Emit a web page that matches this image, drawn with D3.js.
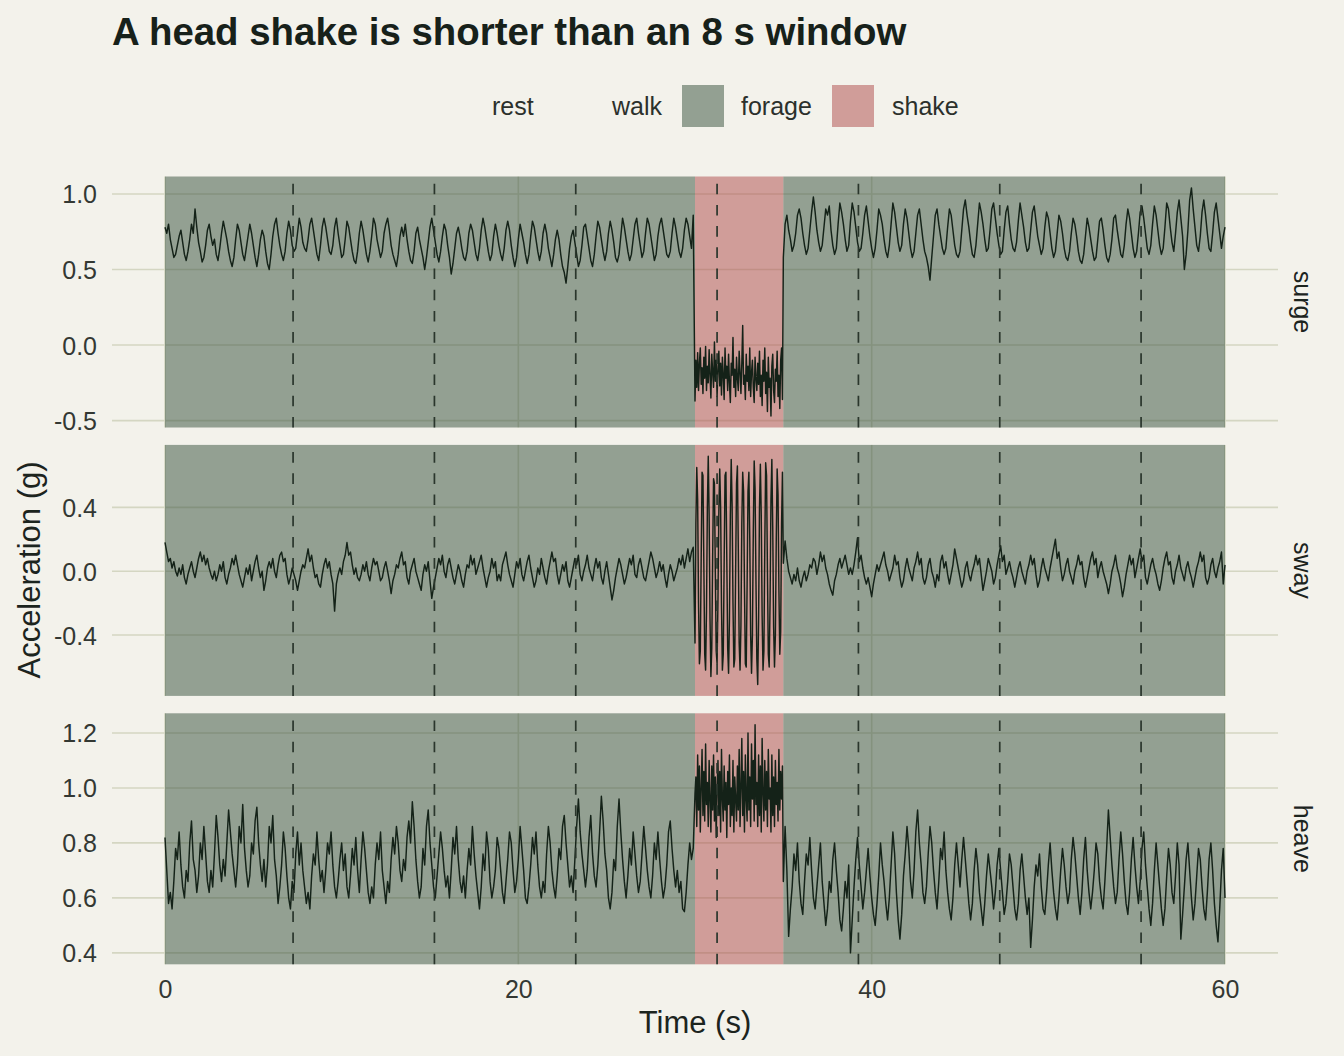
<!DOCTYPE html>
<html><head><meta charset="utf-8">
<script src="https://cdn.jsdelivr.net/npm/d3@7"></script>
<style>html,body{margin:0;padding:0;background:#f3f2eb;}svg{display:block;}</style>
</head><body><svg id="chart" width="1344" height="1056"></svg>
<script>
// ---------------- data ----------------
const titleText = "A head shake is shorter than an 8 s window";
const panelNames = ["surge", "sway", "heave"];
const legendLabels = ["rest", "walk", "forage", "shake"];
const xTicks = [0, 20, 40, 60];
const surgeTicks = [-0.5, 0, 0.5, 1.0];
const surgeTickLabels = ["-0.5", "0.0", "0.5", "1.0"];
const swayTicks = [-0.4, 0, 0.4];
const swayTickLabels = ["-0.4", "0.0", "0.4"];
const heaveTicks = [0.4, 0.6, 0.8, 1.0, 1.2];
const heaveTickLabels = ["0.4", "0.6", "0.8", "1.0", "1.2"];
const windowLines = [7.25, 15.25, 23.25, 31.25, 39.25, 47.25, 55.25];
const boutStart = [0, 30, 35];
const boutEnd = [30, 35, 60];
const boutLabel = ["forage", "shake", "forage"];
// sampling grid: walk segments every 0.1 s, shake every 0.05 s
const preStart = 0, preStep = 0.1;
const shakeStart = 30, shakeStep = 0.05;
const postStart = 35, postStep = 0.1;

// values in hundredths of g
const surgePre = [
78,74,80,70,64,58,60,66,72,76, 68,60,56,62,70,80,74,90,78,68,
62,55,58,66,76,80,72,66,70,60, 56,64,74,82,76,70,62,56,52,58,
70,80,76,68,60,56,64,72,80,74, 66,58,52,60,70,76,72,62,54,50,
60,72,80,84,74,66,60,56,62,74, 82,76,66,62,64,74,84,78,68,64,
62,70,80,84,76,68,60,56,66,78, 84,78,70,62,60,66,78,84,74,66,
58,60,70,82,78,70,62,56,54,62, 74,82,76,68,60,55,62,72,84,80,
70,64,58,62,74,80,84,76,66,60, 56,52,60,72,78,72,80,70,62,56,
54,62,74,78,70,64,58,50,58,68, 78,84,76,68,60,55,62,72,80,76,
66,58,47,54,64,74,78,72,64,58, 56,62,74,80,76,68,60,56,64,76,
84,78,70,62,56,60,72,80,74,66, 60,56,64,76,82,76,66,58,52,58,
70,80,74,68,60,54,60,72,82,78, 70,62,56,62,74,80,74,64,58,52,
60,70,76,70,60,52,48,41,52,64, 72,76,68,60,52,56,66,78,80,72,
64,56,52,60,72,82,78,70,62,56, 62,74,82,76,68,58,55,60,72,84,
78,70,62,56,60,70,80,84,74,66, 58,62,74,84,80,72,64,56,60,72,
80,84,76,68,60,58,62,74,84,78, 70,62,58,64,76,84,80,72,64,86];
const surgeShake = [
-37,-10,-28,-5,-30,-12,-2,-26,-15,-32, -8,-22,-1,-30,-14,-25,-3,-20,-35,-6,
-18,-28,2,-24,-10,-34,-16,-4,-27,-12, -33,-8,-20,-36,-2,-22,-14,-30,-6,-25,
-38,-12,-20,5,-28,-16,-34,-8,-22,-30, -4,-18,-32,-12,13,-26,-20,-36,-6,-24,
-14,-30,-2,-34,-18,-10,-28,-38,-8,-22, -30,-12,-26,-4,-34,-20,-40,-10,-24,-2,
-32,-18,-44,-8,-28,-22,-47,-14,-6,-30, -38,-16,-24,-4,-34,-20,-42,-10,-2,-36];
const surgePost = [
58,80,86,76,70,62,66,74,86,90, 84,74,66,60,64,76,88,98,88,76,
68,62,66,78,90,86,92,76,66,60, 64,80,94,88,80,70,62,66,82,94,
88,78,68,62,64,74,86,92,82,72, 64,58,64,76,90,86,80,70,62,58,
66,80,94,88,78,68,62,66,80,90, 84,74,64,58,62,74,86,90,80,70,
62,58,52,43,58,72,86,90,80,72, 64,60,64,78,90,86,76,66,60,58,
62,76,90,96,86,78,68,60,58,66, 80,94,88,80,70,62,64,76,90,94,
84,74,66,60,62,76,88,92,80,70, 64,62,68,82,94,86,78,68,62,64,
76,88,92,82,72,66,60,64,78,88, 84,74,64,58,62,74,86,82,74,64,
58,56,62,74,84,80,72,62,56,54, 60,72,84,78,70,62,56,58,70,82,
84,76,66,58,55,60,70,84,86,76, 68,60,58,66,80,90,84,74,64,58,
62,74,88,92,84,74,64,60,66,80, 92,86,76,66,60,64,78,94,90,78,
68,62,74,88,96,84,72,50,60,76, 96,104,90,78,66,62,72,88,96,86,
74,64,62,74,88,94,84,74,64,72, 78];

const swayPre = [
18,12,6,8,2,6,0,-3,2,-2, 4,-4,-8,-2,2,6,0,-4,2,8,
12,6,10,4,8,2,-2,-5,0,-6, -2,4,0,6,-4,-8,-2,2,8,4,
10,4,-2,-6,-10,-4,2,-2,4,-6, 0,6,10,2,-4,0,-12,-6,2,6,
2,8,0,-4,4,10,12,6,8,-2, -8,-4,2,-2,-6,-12,-6,0,4,2,
8,14,6,10,2,-4,-2,-8,-10,-2, 4,8,2,6,-2,-8,-25,-8,-2,2,
-2,6,10,18,10,12,4,-2,2,-4, -6,-2,4,0,6,-2,-6,2,8,4,
6,0,-6,-4,2,6,0,-6,-14,-6, -2,4,2,8,12,4,6,-4,-8,0,
4,8,0,-4,-8,-12,-2,4,0,6, -6,-17,-10,-4,2,8,4,10,0,-4,
4,8,2,-4,-8,-2,4,0,-6,-10, -2,4,2,10,4,8,-2,2,6,10,
2,-4,-10,-4,0,8,2,6,-6,-2, -6,4,8,12,4,-2,-6,-10,-2,6,
2,8,-2,-6,0,6,10,2,-4,-10, -6,2,-2,8,2,-4,-8,0,6,12,
6,8,-2,-8,-2,4,0,6,-6,-10, -4,2,8,4,10,-2,-6,0,4,10,
2,-2,-6,2,8,2,6,-4,-8,0, 6,-2,-10,-18,-12,-4,2,8,4,-2,
-8,-4,2,8,4,10,-2,-4,4,8, 2,-4,-6,0,6,12,8,2,-4,0,
6,0,4,-4,-10,-2,4,0,-6,-2, 2,8,4,10,2,8,14,6,12,15];
const swayShake = [
-45,30,65,45,-20,-58,-50, 8,62,60,5,-52,-62,-25, 40,72,35,-30,-66,-48,
10,58,55,0,-50,-58,-18, 38,64,40,-22,-62,-52, 5,60,62,8,-48,-64,-30,
35,70,42,-20,-60,-55, 0,55,66,15,-45,-62,-34, 30,62,50,-10,-58,-60,
-8,50,62,20,-40,-64,-40, 25,69,52,-5,-55,-71, -30,40,67,35,-28,-62,-50,
15,68,60,0,-52,-60, -18,45,70,28,-35,-60, -40,20,64,48,-12,-52,-38,30,62];
const swayPost = [
5,19,8,0,-4,-8,-2,-6,2,-6, -10,-4,0,-6,-2,4,2,8,6,-2,
4,12,6,10,2,-2,-8,-12,-15,-6, -2,4,8,2,6,10,4,-2,2,-2,
4,12,21,6,10,2,-4,-8,-4,-10, -16,-8,-2,4,0,4,8,12,4,0,
-6,-2,2,10,4,6,-4,-10,-6,2, 8,2,-2,-6,2,6,12,4,8,-4,
-8,-4,4,8,0,-4,-10,-2,-6,6, 10,2,6,-2,-8,-2,4,14,8,2,
-4,-10,-6,2,6,-2,-6,0,4,10, 4,8,-2,-12,-6,0,8,4,0,-8,
-4,4,10,16,6,10,-2,2,6,0, -4,-10,-4,2,6,0,-4,-8,0,4,
10,4,8,-2,-10,-6,2,8,2,-2, -6,2,8,14,20,8,12,2,-6,-2,
4,8,0,-4,-8,0,4,10,4,6, -4,-10,-4,2,8,12,4,8,-4,2,
6,0,-4,-8,-14,-8,0,4,10,2, -2,-8,-16,-10,-2,4,10,4,8,-4,
2,8,14,6,10,-4,-8,-2,4,8, 2,-2,-8,-12,-6,2,8,12,4,6,
-4,-8,0,4,10,2,-2,-6,2,6, 0,-4,-10,-4,2,6,12,6,10,-4,
-8,-4,4,8,0,-4,2,6,12,-8, 4];

const heavePre = [
82,70,58,62,56,66,78,74,84,72, 64,60,70,66,80,88,74,70,62,68,
80,74,86,76,66,62,70,64,76,90, 82,72,66,74,68,80,92,84,76,70,
64,72,86,80,94,78,70,64,68,80, 76,88,93,80,72,66,74,64,72,86,
80,90,74,68,58,64,72,84,78,68, 60,56,66,62,76,84,72,80,70,64,
58,62,56,68,76,72,84,74,66,70, 62,70,80,76,84,72,64,60,66,74,
80,70,76,64,60,68,78,72,82,70, 62,74,84,78,70,62,58,64,60,72,
80,74,84,70,64,58,66,62,74,82, 76,86,80,70,66,74,70,82,88,80,
95,86,74,66,60,64,78,72,86,92, 80,72,64,60,68,76,84,78,70,64,
68,60,70,82,76,86,74,66,62,68, 60,70,78,72,86,76,68,62,56,64,
76,70,84,78,66,60,64,70,82,78, 70,62,58,66,74,84,80,70,62,66,
74,86,78,70,60,58,64,72,82,76, 84,72,64,60,66,62,76,86,80,70,
64,60,68,78,74,86,90,80,72,64, 68,62,74,86,96,84,76,70,64,70,
82,90,76,68,64,72,84,97,88,76, 70,60,56,62,74,70,86,96,84,74,
66,60,68,78,72,84,76,68,62,66, 76,86,78,70,64,60,68,80,74,84,
74,66,60,64,72,84,88,78,70,64, 70,62,66,56,55,62,72,80,74,78];
const heaveShake = [
98,104,86,112,92,108,84,100,114,90, 106,88,116,94,102,86,110,96,84,108,
92,112,88,104,82,100,110,90,106,84, 114,96,88,108,92,102,82,106,94,112,
86,100,90,110,84,104,96,88,108,92, 114,86,100,118,90,106,84,112,96,88,
120,92,104,86,116,96,110,88,123,94, 102,86,112,90,108,84,118,98,88,110,
92,106,86,114,96,100,84,112,90,104, 86,110,94,102,88,114,92,106,96,108];
const heavePost = [
66,86,70,46,56,64,76,70,80,66, 58,54,66,76,72,82,70,60,56,64,
72,80,66,58,50,56,66,62,74,80, 70,62,52,48,56,66,60,72,40,52,
64,74,82,72,64,56,62,70,78,68, 60,54,50,58,68,80,72,66,58,52,
60,72,84,76,62,52,45,54,68,76, 86,78,66,60,70,84,92,80,72,62,
58,64,76,86,80,70,62,56,66,78, 74,84,70,62,56,52,60,72,80,72,
64,74,82,74,66,58,52,58,70,78, 72,62,56,50,58,68,76,70,64,56,
62,72,78,70,62,54,58,66,76,72, 64,56,52,58,70,76,68,60,54,60,
42,52,64,72,68,76,64,56,54,62, 72,80,70,62,56,52,60,70,78,72,
64,58,62,74,82,76,68,60,54,62, 74,82,70,62,56,62,70,80,76,66,
60,56,66,78,92,82,72,64,58,62, 74,84,76,66,58,54,62,74,82,72,
64,58,66,78,84,72,64,56,50,58, 70,80,72,64,56,50,56,68,78,72,
62,58,68,80,72,45,54,64,74,80, 70,60,52,58,68,78,74,64,56,52,
62,74,80,70,58,50,44,56,70,78, 60];

// ---------------- build ----------------
function series(pre, shake, post) {
  const out = [];
  pre.forEach((v, i) => out.push({ t: preStart + i * preStep, v: v / 100 }));
  shake.forEach((v, i) => out.push({ t: shakeStart + i * shakeStep, v: v / 100 }));
  post.forEach((v, i) => out.push({ t: postStart + i * postStep, v: v / 100 }));
  return out;
}
const panelData = [
  { name: "surge", data: series(surgePre, surgeShake, surgePost), ticks: surgeTicks, labels: surgeTickLabels },
  { name: "sway", data: series(swayPre, swayShake, swayPost), ticks: swayTicks, labels: swayTickLabels },
  { name: "heave", data: series(heavePre, heaveShake, heavePost), ticks: heaveTicks, labels: heaveTickLabels }
];

const bg = "#f3f2eb";
const fillColor = { rest: "none", walk: "none", forage: "#334e39", shake: "#ad4847" };
const fillOpacity = 0.5;
const gridColor = "#d4d6c2";
const inkColor = "#142218";
const textColor = "#333833";
const font = "'Liberation Sans', Arial, Helvetica, sans-serif";

const svg = d3.select("#chart");
svg.append("rect").attr("width", 1344).attr("height", 1056).attr("fill", bg);

const left = 112, right = 1278;
const top0 = 176.5, ph = 251, gap = 17.4;

const x = d3.scaleLinear().domain([-3, 63]).range([left, right]);

panelData.forEach((p, k) => {
  const ptop = top0 + k * (ph + gap), pbot = ptop + ph;
  const ext = d3.extent(p.data, d => d.v);
  const r = ext[1] - ext[0];
  const y = d3.scaleLinear().domain([ext[0] - 0.05 * r, ext[1] + 0.05 * r]).range([pbot, ptop]);
  const g = svg.append("g");

  g.selectAll("line.hg").data(p.ticks).join("line")
    .attr("x1", left).attr("x2", right)
    .attr("y1", d => y(d)).attr("y2", d => y(d))
    .attr("stroke", gridColor).attr("stroke-width", 1.6);
  g.selectAll("line.vg").data(xTicks).join("line")
    .attr("x1", d => x(d)).attr("x2", d => x(d))
    .attr("y1", ptop).attr("y2", pbot)
    .attr("stroke", gridColor).attr("stroke-width", 1.6);

  g.selectAll("rect.bout").data(boutStart).join("rect")
    .attr("x", d => x(d)).attr("width", (d, i) => x(boutEnd[i]) - x(d))
    .attr("y", ptop).attr("height", ph)
    .attr("fill", (d, i) => fillColor[boutLabel[i]]).attr("fill-opacity", fillOpacity);

  const line = d3.line().x(d => x(d.t)).y(d => y(d.v));
  g.append("path").datum(p.data).attr("d", line)
    .attr("fill", "none").attr("stroke", inkColor).attr("stroke-width", 1.45)
    .attr("stroke-linejoin", "round");

  g.selectAll("line.win").data(windowLines).join("line")
    .attr("x1", d => x(d)).attr("x2", d => x(d))
    .attr("y1", pbot).attr("y2", ptop)
    .attr("stroke", "#2a362c").attr("stroke-width", 1.7)
    .attr("stroke-dasharray", "10.6,10.6");

  const ya = svg.append("g").attr("transform", `translate(${left},0)`)
    .call(d3.axisLeft(y).tickValues(p.ticks).tickFormat((d, i) => p.labels[i]).tickSize(0).tickPadding(15));
  ya.select(".domain").remove();
  ya.selectAll("text").attr("font-family", font).attr("font-size", 25).attr("fill", textColor).attr("dy", "0.36em");

  svg.append("text").attr("transform", `translate(1293.5,${(ptop + pbot) / 2}) rotate(90)`)
    .attr("text-anchor", "middle").attr("font-family", font).attr("font-size", 25)
    .attr("fill", "#1c241e").text(p.name);
});

const lastBottom = top0 + 2 * (ph + gap) + ph;
const xa = svg.append("g").attr("transform", `translate(0,${lastBottom})`)
  .call(d3.axisBottom(x).tickValues(xTicks).tickFormat(d3.format("d")).tickSize(0).tickPadding(16));
xa.select(".domain").remove();
xa.selectAll("text").attr("font-family", font).attr("font-size", 25).attr("fill", textColor);

svg.append("text").attr("x", 695).attr("y", 1033).attr("text-anchor", "middle")
  .attr("font-family", font).attr("font-size", 31).attr("fill", "#1c241e").text("Time (s)");
svg.append("text").attr("transform", "translate(40,570) rotate(-90)").attr("text-anchor", "middle")
  .attr("font-family", font).attr("font-size", 31).attr("fill", "#1c241e").text("Acceleration (g)");

svg.append("text").attr("x", 112).attr("y", 45).attr("font-family", font).attr("font-weight", "bold")
  .attr("font-size", 38.4).attr("fill", "#17211a").text(titleText);

const legendKeyX = [433, 553, 682, 832];
const legendTextX = [492, 612, 741, 892];
const lg = svg.append("g");
lg.selectAll("rect").data(legendLabels).join("rect")
  .attr("x", (d, i) => legendKeyX[i]).attr("y", 85).attr("width", 42).attr("height", 42)
  .attr("fill", d => fillColor[d]).attr("fill-opacity", fillOpacity);
lg.selectAll("text").data(legendLabels).join("text")
  .attr("x", (d, i) => legendTextX[i]).attr("y", 106).attr("dy", "0.36em")
  .attr("font-family", font).attr("font-size", 25).attr("fill", "#2b302b").text(d => d);
</script></body></html>
